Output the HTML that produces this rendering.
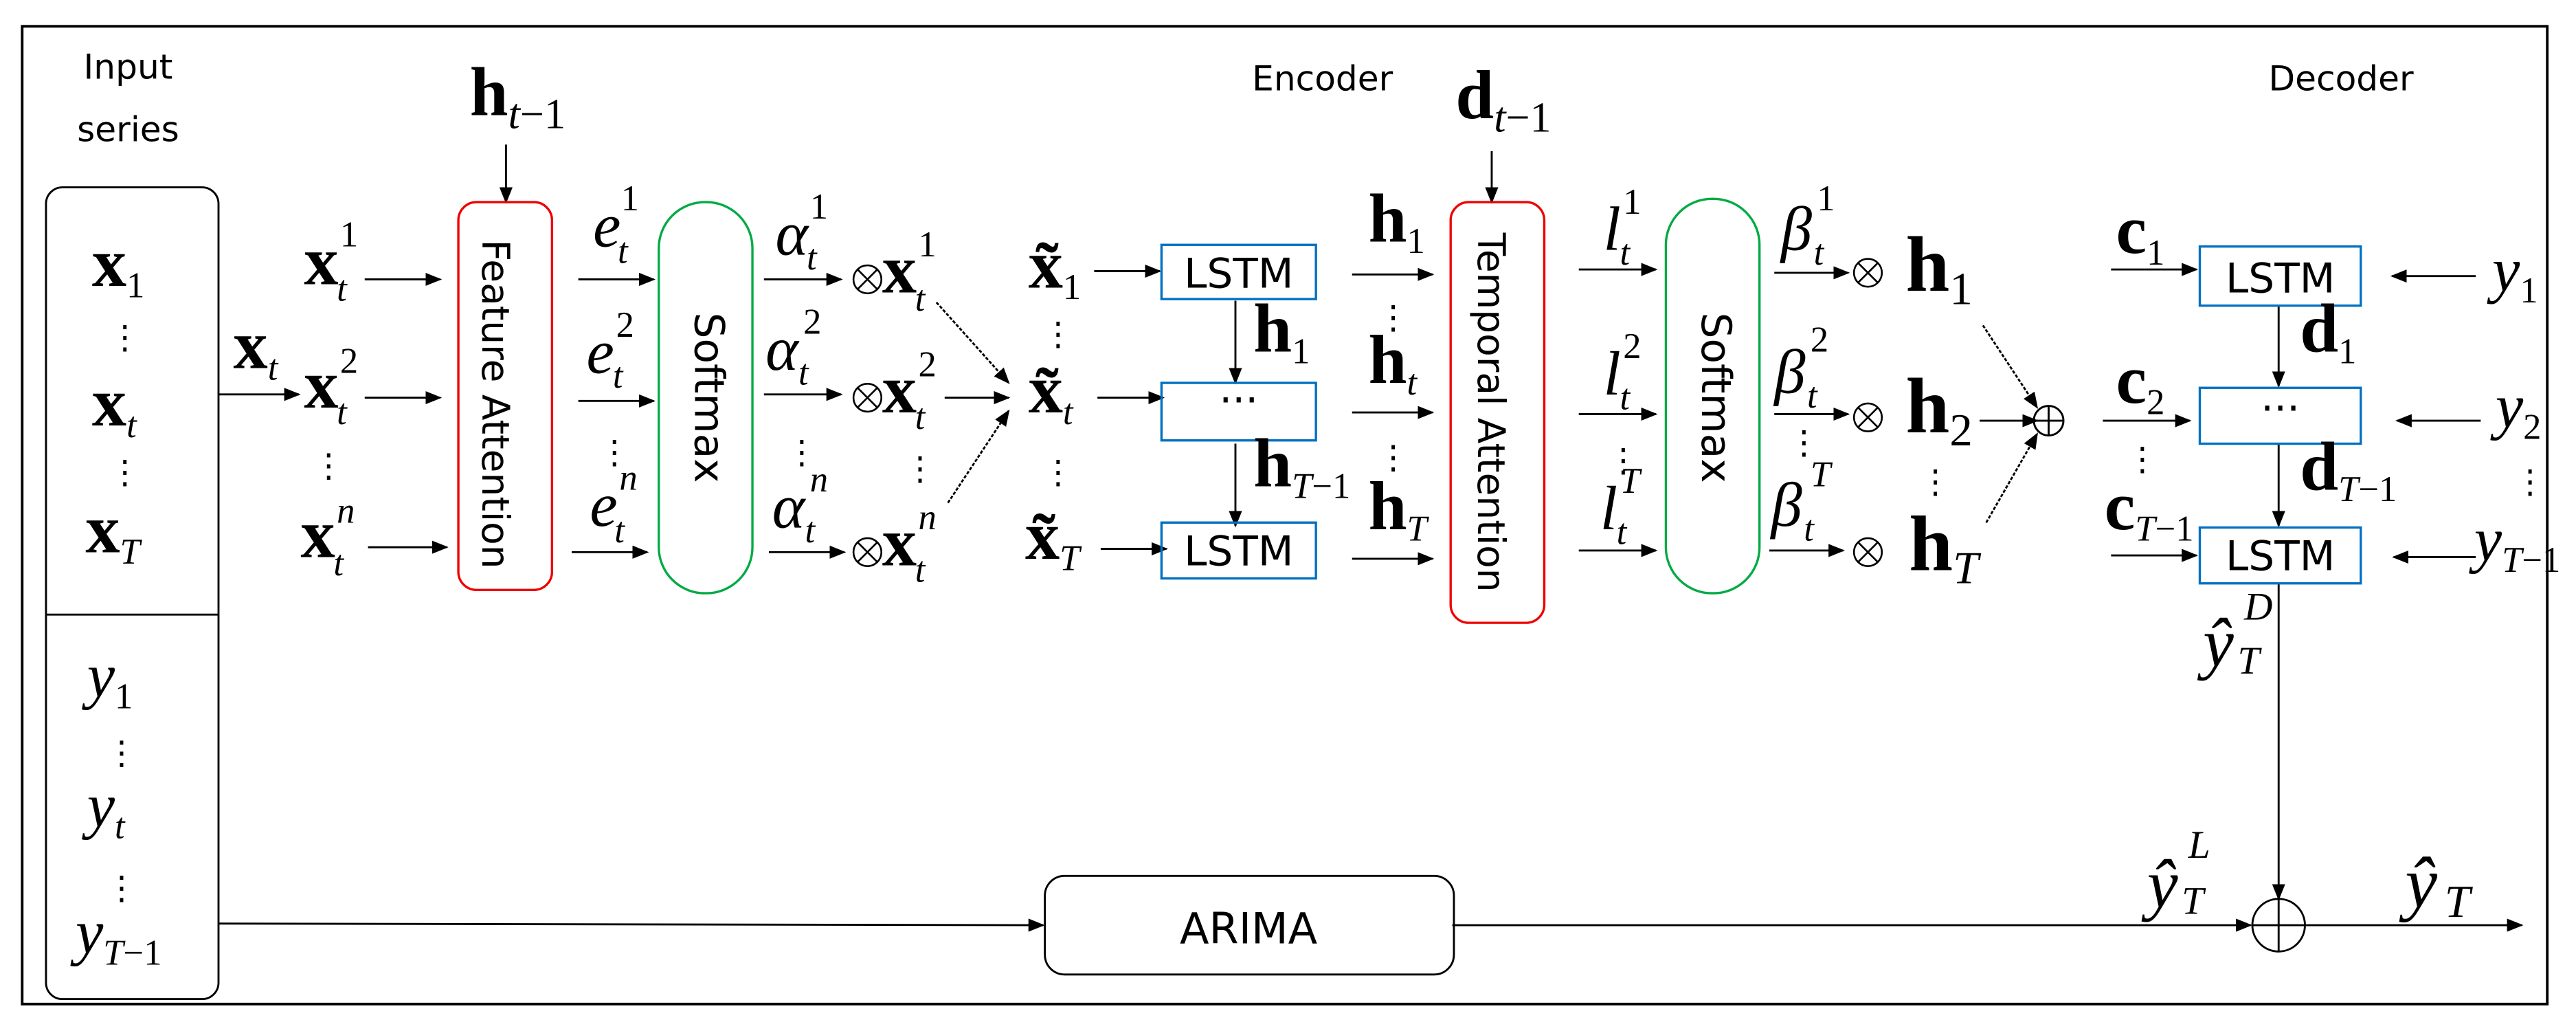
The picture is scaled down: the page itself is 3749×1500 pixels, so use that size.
<!DOCTYPE html>
<html><head><meta charset="utf-8"><style>
html,body{margin:0;padding:0;background:#fff;}
svg{display:block;}
text{font-family:"Liberation Serif",serif;}
.sans text, text.sans{font-family:"DejaVu Sans","Liberation Sans",sans-serif;}
.b{font-weight:bold;font-size:42px;}
.i{font-style:italic;font-size:38px;}
.s{font-style:italic;font-size:22px;font-weight:normal;}
.n{font-style:normal;font-size:22px;font-weight:normal;}
.dots{font-size:20px;}
</style></head><body>
<svg width="3749" height="1500" viewBox="0 0 1568 627.4" preserveAspectRatio="none" xmlns="http://www.w3.org/2000/svg">
<defs>
<marker id="a" markerWidth="10" markerHeight="8" refX="9" refY="4" orient="auto" markerUnits="userSpaceOnUse"><path d="M0,0 L10,4 L0,8 Z" fill="#000"/></marker>
<g id="ot" fill="none" stroke="#000" stroke-width="1.1"><circle r="8.5"/><line x1="-6" y1="-6" x2="6" y2="6"/><line x1="-6" y1="6" x2="6" y2="-6"/></g>
</defs>
<rect x="13.5" y="16" width="1537" height="595" fill="none" stroke="#000" stroke-width="1.6"/>
<g fill="none" stroke="#000" stroke-width="1.2">
<rect x="28" y="114" width="105" height="494" rx="10"/>
<line x1="28" y1="374" x2="133" y2="374"/>
<line x1="133" y1="240" x2="182" y2="240" marker-end="url(#a)"/>
<line x1="222" y1="170" x2="268" y2="170" marker-end="url(#a)"/>
<line x1="222" y1="242" x2="268" y2="242" marker-end="url(#a)"/>
<line x1="224" y1="333" x2="272" y2="333" marker-end="url(#a)"/>
<line x1="308" y1="88" x2="308" y2="123" marker-end="url(#a)"/>
<line x1="352" y1="170" x2="398" y2="170" marker-end="url(#a)"/>
<line x1="352" y1="244" x2="398" y2="244" marker-end="url(#a)"/>
<line x1="348" y1="336" x2="394" y2="336" marker-end="url(#a)"/>
<line x1="465" y1="170" x2="512" y2="170" marker-end="url(#a)"/>
<line x1="465" y1="240" x2="512" y2="240" marker-end="url(#a)"/>
<line x1="468" y1="336" x2="514" y2="336" marker-end="url(#a)"/>
<line x1="570" y1="184" x2="614" y2="233" stroke-dasharray="2,1" marker-end="url(#a)"/>
<line x1="575" y1="242" x2="614" y2="242" marker-end="url(#a)"/>
<line x1="577" y1="306" x2="614" y2="250" stroke-dasharray="2,1" marker-end="url(#a)"/>
<line x1="666" y1="165" x2="706" y2="165" marker-end="url(#a)"/>
<line x1="668" y1="242" x2="708" y2="242" marker-end="url(#a)"/>
<line x1="670" y1="334" x2="710" y2="334" marker-end="url(#a)"/>
<line x1="752" y1="183" x2="752" y2="233" marker-end="url(#a)"/>
<line x1="752" y1="270" x2="752" y2="320" marker-end="url(#a)"/>
<line x1="823" y1="167" x2="872" y2="167" marker-end="url(#a)"/>
<line x1="823" y1="251" x2="872" y2="251" marker-end="url(#a)"/>
<line x1="823" y1="340" x2="872" y2="340" marker-end="url(#a)"/>
<line x1="908" y1="92" x2="908" y2="123" marker-end="url(#a)"/>
<line x1="961" y1="164" x2="1008" y2="164" marker-end="url(#a)"/>
<line x1="961" y1="252" x2="1008" y2="252" marker-end="url(#a)"/>
<line x1="961" y1="335" x2="1008" y2="335" marker-end="url(#a)"/>
<line x1="1080" y1="166" x2="1125" y2="166" marker-end="url(#a)"/>
<line x1="1080" y1="252" x2="1125" y2="252" marker-end="url(#a)"/>
<line x1="1077" y1="335" x2="1122" y2="335" marker-end="url(#a)"/>
<line x1="1207" y1="198" x2="1240" y2="248" stroke-dasharray="2,1" marker-end="url(#a)"/>
<line x1="1205" y1="256" x2="1240" y2="256" marker-end="url(#a)"/>
<line x1="1209" y1="318" x2="1240" y2="264" stroke-dasharray="2,1" marker-end="url(#a)"/>
<line x1="1285" y1="164" x2="1337" y2="164" marker-end="url(#a)"/>
<line x1="1280" y1="256" x2="1333" y2="256" marker-end="url(#a)"/>
<line x1="1285" y1="338" x2="1337" y2="338" marker-end="url(#a)"/>
<line x1="1507" y1="168" x2="1456" y2="168" marker-end="url(#a)"/>
<line x1="1510" y1="256" x2="1459" y2="256" marker-end="url(#a)"/>
<line x1="1507" y1="339" x2="1457" y2="339" marker-end="url(#a)"/>
<line x1="1387" y1="186" x2="1387" y2="235" marker-end="url(#a)"/>
<line x1="1387" y1="270" x2="1387" y2="320" marker-end="url(#a)"/>
<line x1="1387" y1="355" x2="1387" y2="547" marker-end="url(#a)"/>
<line x1="133" y1="562" x2="635" y2="563" marker-end="url(#a)"/>
<line x1="884" y1="563" x2="1370" y2="563" marker-end="url(#a)"/>
<line x1="1403" y1="563" x2="1535" y2="563" marker-end="url(#a)"/>
<rect x="636" y="533" width="249" height="60" rx="12"/>
<circle cx="1387" cy="563" r="16"/><line x1="1371" y1="563" x2="1403" y2="563"/><line x1="1387" y1="547" x2="1387" y2="579"/>
<circle cx="1247" cy="256" r="9"/><line x1="1238" y1="256" x2="1256" y2="256"/><line x1="1247" y1="247" x2="1247" y2="265"/>
</g>
<use href="#ot" x="528" y="170"/><use href="#ot" x="528" y="242"/><use href="#ot" x="528" y="336"/>
<use href="#ot" x="1137" y="166"/><use href="#ot" x="1137" y="254"/><use href="#ot" x="1137" y="336"/>
<rect x="279" y="123" width="57" height="236" rx="11" fill="none" stroke="#e00" stroke-width="1.4"/>
<rect x="401" y="123" width="57" height="238" rx="28" fill="none" stroke="#0a4" stroke-width="1.4"/>
<rect x="883" y="123" width="57" height="256" rx="11" fill="none" stroke="#e00" stroke-width="1.4"/>
<rect x="1014" y="121" width="57" height="240" rx="28" fill="none" stroke="#0a4" stroke-width="1.4"/>
<g class="sans" style="font-size:23px" text-anchor="middle" dominant-baseline="middle">
<text transform="translate(300,246) rotate(90)">Feature Attention</text>
<text transform="translate(430,242) rotate(90)" style="font-size:25px">Softmax</text>
<text transform="translate(906,251) rotate(90)">Temporal Attention</text>
<text transform="translate(1043,242) rotate(90)" style="font-size:25px">Softmax</text>
</g>
<g fill="none" stroke="#0070c0" stroke-width="1.4">
<rect x="707" y="149" width="94" height="33"/><rect x="707" y="233" width="94" height="35"/><rect x="707" y="318" width="94" height="34"/>
<rect x="1339" y="150" width="98" height="36"/><rect x="1339" y="236" width="98" height="34"/><rect x="1339" y="321" width="98" height="34"/>
</g>
<g class="sans" text-anchor="middle" style="font-size:25px">
<text x="754" y="175">LSTM</text><text x="754" y="252">···</text><text x="754" y="344">LSTM</text>
<text x="1388" y="178">LSTM</text><text x="1388" y="257">···</text><text x="1388" y="347">LSTM</text>
<text x="760" y="574" style="font-size:26px">ARIMA</text>
</g>
<g class="sans" text-anchor="middle" style="font-size:21px">
<text x="78" y="48">Input</text><text x="78" y="86">series</text>
<text x="805" y="55">Encoder</text><text x="1425" y="55">Decoder</text>
</g>
<text class="b" x="56" y="174">x<tspan class="n" dy="7">1</tspan></text>
<text class="b" x="56" y="259">x<tspan class="s" dy="7">t</tspan></text>
<text class="b" x="52" y="336">x<tspan class="s" dy="7">T</tspan></text>
<text class="dots" x="66" y="212">⋮</text><text class="dots" x="66" y="294">⋮</text>
<text class="i" x="53" y="424">y<tspan class="n" dy="7">1</tspan></text>
<text class="i" x="53" y="503">y<tspan class="s" dy="7">t</tspan></text>
<text class="i" x="46" y="580">y<tspan class="s" dy="7">T</tspan><tspan class="n">−1</tspan></text>
<text class="dots" x="64" y="465">⋮</text><text class="dots" x="64" y="547">⋮</text>
<text class="b" x="142" y="224">x<tspan class="s" dy="7">t</tspan></text>
<text class="b" x="185" y="173">x</text><text class="n" x="207" y="150">1</text><text class="s" x="205" y="183">t</text>
<text class="b" x="185" y="248">x</text><text class="n" x="207" y="227">2</text><text class="s" x="205" y="258">t</text>
<text class="dots" x="190" y="290">⋮</text>
<text class="b" x="183" y="339">x</text><text class="s" x="205" y="318">n</text><text class="s" x="203" y="350">t</text>
<text class="b" x="286" y="70">h<tspan class="s" dy="8" style="font-size:26px">t</tspan><tspan class="n" style="font-size:26px">−1</tspan></text>
<text class="i" x="361" y="150">e</text><text class="n" x="378" y="128">1</text><text class="s" x="376" y="160">t</text>
<text class="i" x="357" y="227">e</text><text class="n" x="375" y="205">2</text><text class="s" x="373" y="236">t</text>
<text class="dots" x="364" y="282">⋮</text>
<text class="i" x="359" y="320">e</text><text class="s" x="377" y="298">n</text><text class="s" x="374" y="330">t</text>
<text class="i" x="472" y="155">α</text><text class="n" x="493" y="133">1</text><text class="s" x="491" y="164">t</text>
<text class="i" x="466" y="225">α</text><text class="n" x="489" y="203">2</text><text class="s" x="486" y="234">t</text>
<text class="dots" x="478" y="282">⋮</text>
<text class="i" x="470" y="321">α</text><text class="s" x="493" y="299">n</text><text class="s" x="490" y="330">t</text>
<text class="b" x="537" y="178">x</text><text class="n" x="559" y="156">1</text><text class="s" x="557" y="189">t</text>
<text class="b" x="537" y="251">x</text><text class="n" x="559" y="229">2</text><text class="s" x="557" y="261">t</text>
<text class="dots" x="550" y="292">⋮</text>
<text class="b" x="537" y="344">x</text><text class="s" x="559" y="322">n</text><text class="s" x="557" y="354">t</text>
<text class="b" x="626" y="175">x̃<tspan class="n" dy="7">1</tspan></text>
<text class="dots" x="634" y="210">⋮</text>
<text class="b" x="626" y="251">x̃<tspan class="s" dy="7">t</tspan></text>
<text class="dots" x="634" y="294">⋮</text>
<text class="b" x="624" y="340">x̃<tspan class="s" dy="7">T</tspan></text>
<text class="b" x="763" y="214">h<tspan class="n" dy="7">1</tspan></text>
<text class="b" x="763" y="296">h<tspan class="s" dy="7">T</tspan><tspan class="n">−1</tspan></text>
<text class="b" x="833" y="147">h<tspan class="n" dy="7">1</tspan></text>
<text class="dots" x="838" y="200">⋮</text>
<text class="b" x="833" y="233">h<tspan class="s" dy="7">t</tspan></text>
<text class="dots" x="838" y="285">⋮</text>
<text class="b" x="833" y="322">h<tspan class="s" dy="7">T</tspan></text>
<text class="b" x="886" y="72">d<tspan class="s" dy="8" style="font-size:26px">t</tspan><tspan class="n" style="font-size:26px">−1</tspan></text>
<text class="i" x="976" y="152">l</text><text class="n" x="988" y="130">1</text><text class="s" x="986" y="161">t</text>
<text class="i" x="976" y="240">l</text><text class="n" x="988" y="218">2</text><text class="s" x="986" y="249">t</text>
<text class="dots" x="978" y="287">⋮</text>
<text class="i" x="974" y="322">l</text><text class="s" x="986" y="300">T</text><text class="s" x="984" y="331">t</text>
<text class="i" x="1084" y="152">β</text><text class="n" x="1106" y="128">1</text><text class="s" x="1104" y="161">t</text>
<text class="i" x="1080" y="239">β</text><text class="n" x="1102" y="214">2</text><text class="s" x="1100" y="248">t</text>
<text class="dots" x="1088" y="276">⋮</text>
<text class="i" x="1078" y="320">β</text><text class="s" x="1102" y="296">T</text><text class="s" x="1098" y="329">t</text>
<text class="b" x="1160" y="177" style="font-size:48px">h<tspan class="n" dy="8" style="font-size:28px">1</tspan></text>
<text class="b" x="1160" y="263" style="font-size:48px">h<tspan class="n" dy="8" style="font-size:28px">2</tspan></text>
<text class="dots" x="1168" y="300">⋮</text>
<text class="b" x="1162" y="347" style="font-size:48px">h<tspan class="s" dy="8" style="font-size:28px">T</tspan></text>
<text class="b" x="1288" y="154">c<tspan class="n" dy="7">1</tspan></text>
<text class="b" x="1288" y="245">c<tspan class="n" dy="7">2</tspan></text>
<text class="dots" x="1294" y="286">⋮</text>
<text class="b" x="1281" y="322">c<tspan class="s" dy="7">T</tspan><tspan class="n">−1</tspan></text>
<text class="b" x="1400" y="214">d<tspan class="n" dy="7">1</tspan></text>
<text class="b" x="1400" y="298">d<tspan class="s" dy="7">T</tspan><tspan class="n">−1</tspan></text>
<text class="i" x="1517" y="177">y<tspan class="n" dy="7">1</tspan></text>
<text class="i" x="1519" y="260">y<tspan class="n" dy="7">2</tspan></text>
<text class="dots" x="1530" y="300">⋮</text>
<text class="i" x="1506" y="341">y<tspan class="s" dy="7">T</tspan><tspan class="n">−1</tspan></text>
<text class="i" x="1341" y="405" style="font-size:42px">ŷ</text><text class="s" x="1366" y="377" style="font-size:24px">D</text><text class="s" x="1362" y="410" style="font-size:24px">T</text>
<text class="i" x="1307" y="552" style="font-size:42px">ŷ</text><text class="s" x="1332" y="522" style="font-size:24px">L</text><text class="s" x="1328" y="556" style="font-size:24px">T</text>
<text class="i" x="1464" y="552" style="font-size:44px">ŷ</text><text class="s" x="1488" y="558" style="font-size:28px">T</text>
</svg>
</body></html>
